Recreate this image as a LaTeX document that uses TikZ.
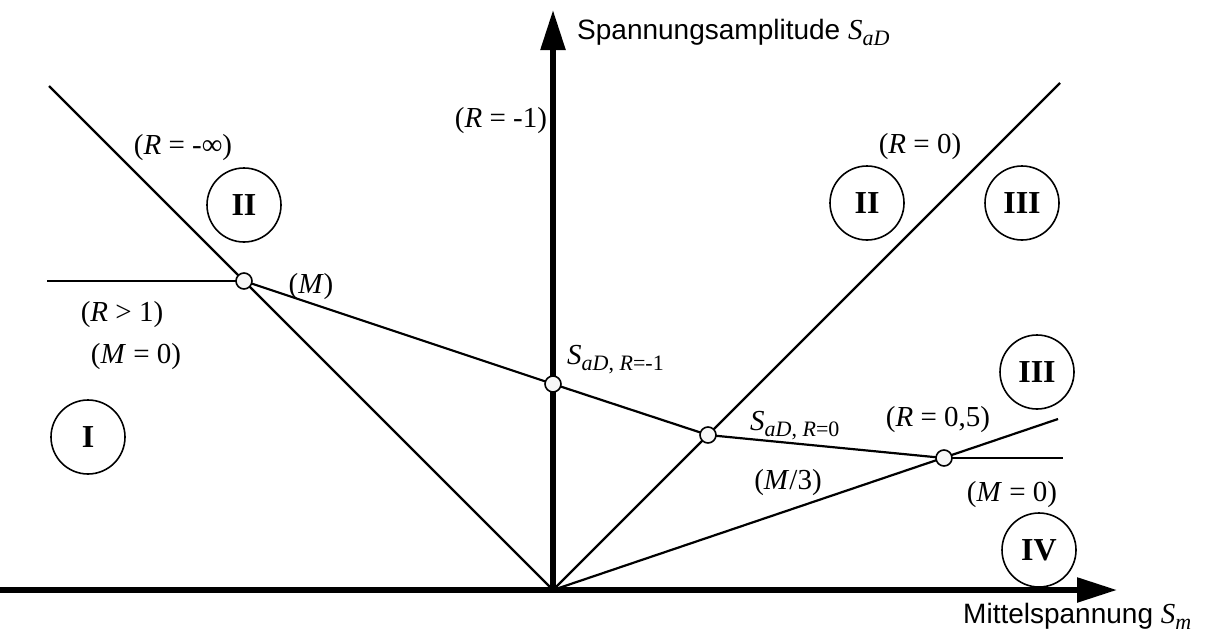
\documentclass[tikz,border=0pt]{standalone}
\usepackage{fontspec}
\setmainfont{Liberation Serif}
\newfontfamily\arialf{Liberation Sans}
\usetikzlibrary{arrows.meta}
\newcommand{\mysub}[1]{\raisebox{-6pt}{\fontsize{22}{22}\selectfont #1}}
\begin{document}
\begin{tikzpicture}[x=1pt,y=-1pt,
  thin line/.style={line width=2.2pt},
  axis/.style={line width=5.5pt,-{Triangle[length=40pt,width=24pt]}},
  lab/.style={font=\fontsize{29}{29}\selectfont,inner sep=0pt},
  sans/.style={font=\arialf\fontsize{28}{28}\selectfont,inner sep=0pt},
  region/.style={circle,draw,line width=1.6pt,minimum size=74pt,inner sep=0pt,font=\fontsize{32}{32}\selectfont\bfseries},
  pt/.style={circle,draw,line width=1.6pt,fill=white!97!black,minimum size=16pt,inner sep=0pt}]
\useasboundingbox (0,0) rectangle (1220,640);
% coordinates
\coordinate (O) at (553,590);
\coordinate (xs) at (0,590);
\coordinate (xe) at (1117,590);
\coordinate (ye) at (553,10);
\coordinate (L1) at (49,86);
\coordinate (H1) at (47,281);
\coordinate (R0e) at (1060,83);
\coordinate (R5e) at (1058,419);
\coordinate (M0e) at (1063,458);
\coordinate (p1) at (244,281);
\coordinate (p2) at (553,384);
\coordinate (p3) at (708,435);
\coordinate (p4) at (944,458);
% lines
\draw[thin line] (L1) -- (O);
\draw[thin line] (H1) -- (p1);
\draw[thin line] (p1) -- (p2) -- (p3) -- (p4);
\draw[thin line] (O) -- (R0e);
\draw[thin line] (O) -- (R5e);
\draw[thin line] (p4) -- (M0e);
% axes
\draw[axis] (xs) -- (xe);
\draw[axis] (O) -- (ye);
% points
\node[pt] (P1) at (p1) {};
\node[pt] (P2) at (p2) {};
\node[pt] (P3) at (p3) {};
\node[pt] (P4) at (p4) {};
% regions
\node[region] (c2a) at (244,205) {II};
\node[region] (c2b) at (867,203) {II};
\node[region] (c3a) at (1022,203) {III};
\node[region] (c3b) at (1037,372) {III};
\node[region] (c1) at (88,437) {I};
\node[region] (c4) at (1039,550) {IV};
% axis labels
\node[sans,anchor=base west] (ylab) at (577,39) {Spannungsamplitude \textrm{\fontsize{29}{29}\selectfont\textit{S}\mysub{\textit{aD}}}};
\node[sans,anchor=base west] (xlab) at (963,623) {Mittelspannung \textrm{\fontsize{29}{29}\selectfont\textit{S}\mysub{\textit{m}}}};
% labels
\node[lab] (lRminf) at (183,148) {(\textit{R} = -∞)};
\node[lab] (lRm1) at (501,121) {(\textit{R} = -1)};
\node[lab] (lR0) at (920,147) {(\textit{R} = 0)};
\node[lab] (lM) at (311,287) {(\textit{M})};
\node[lab] (lRg1) at (122,315) {(\textit{R} > 1)};
\node[lab] (lM0a) at (136,357) {(\textit{M} = 0)};
\node[lab,anchor=west] (lS1) at (567,360) {\textit{S}\mysub{\textit{aD}, \textit{R}=-1}};
\node[lab,anchor=west] (lS0) at (750,426) {\textit{S}\mysub{\textit{aD}, \textit{R}=0}};
\node[lab] (lR5) at (938,420) {(\textit{R} = 0,5)};
\node[lab] (lM3) at (788,483) {(\textit{M}/3)};
\node[lab] (lM0b) at (1012,495) {(\textit{M} = 0)};
\end{tikzpicture}
\end{document}
